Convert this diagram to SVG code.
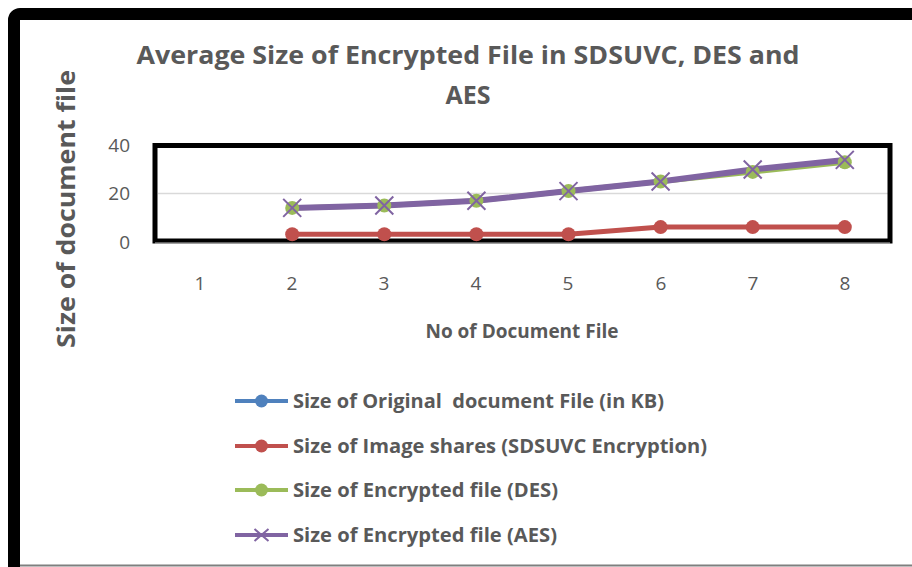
<svg xmlns="http://www.w3.org/2000/svg" width="912" height="567" viewBox="0 0 912 567">
<style>
text{font-family:"Open Sans","Liberation Sans",sans-serif;fill:#595959}
.title{font-size:25px;font-weight:bold;text-anchor:middle}
.axt{font-size:25px;font-weight:bold;text-anchor:middle}
.xt{font-size:19px;font-weight:bold;text-anchor:middle}
.tick{font-size:19px;text-anchor:middle}
.ytick{font-size:19px;text-anchor:end}
.leg{font-size:19px;font-weight:bold;white-space:pre}
.red{stroke:#C0504D;stroke-width:5;fill:none;stroke-linejoin:round;stroke-linecap:round}
.green{stroke:#9BBB59;stroke-width:5;fill:none;stroke-linejoin:round;stroke-linecap:round}
.purple{stroke:#8064A2;stroke-width:6;fill:none;stroke-linejoin:round;stroke-linecap:round}
.xm{stroke:#8064A2;stroke-width:2;fill:none}
</style>
<defs>
<g id="xmark"><path class="xm" d="M-9,-9L9,9M-9,9L9,-9"/></g>
<g id="xmarkS"><path class="xm" d="M-7,-6L7,6M-7,6L7,-6"/></g>
</defs>
<rect x="0" y="0" width="912" height="567" fill="#fff"/>
<g id="frame">
<rect x="14" y="14" width="1000" height="600" rx="6" fill="#fff" stroke="#000" stroke-width="12"/>
<line x1="20" y1="565.5" x2="912" y2="565.5" stroke="#7f7f7f" stroke-width="2"/>
</g>
<g id="title">
<text class="title" x="468" y="64" textLength="663" lengthAdjust="spacingAndGlyphs">Average Size of Encrypted File in SDSUVC, DES and</text>
<text class="title" x="468" y="104">AES</text>
</g>
<g id="y-axis-title">
<text class="axt" transform="translate(75,209) rotate(-90)" textLength="278" lengthAdjust="spacingAndGlyphs">Size of document file</text>
</g>
<g id="plot-area">
<line x1="158" y1="193.5" x2="888" y2="193.5" stroke="#D9D9D9" stroke-width="1.5"/>
<rect x="155" y="145.5" width="735" height="95.5" fill="none" stroke="#000" stroke-width="5"/>
<line x1="155" y1="243" x2="890" y2="243" stroke="#bfbfbf" stroke-width="1"/>
</g>
<g id="y-ticks">
<text class="ytick" x="130" y="152">40</text>
<text class="ytick" x="130" y="200">20</text>
<text class="ytick" x="130" y="249">0</text>
</g>
<g id="x-ticks">
<text class="tick" x="200" y="290">1</text>
<text class="tick" x="292" y="290">2</text>
<text class="tick" x="384" y="290">3</text>
<text class="tick" x="476" y="290">4</text>
<text class="tick" x="568" y="290">5</text>
<text class="tick" x="661" y="290">6</text>
<text class="tick" x="753" y="290">7</text>
<text class="tick" x="845" y="290">8</text>
</g>
<g id="x-axis-title">
<text class="xt" x="522" y="338">No of Document File</text>
</g>
<g id="connectors">
<polyline class="red" points="292.2,234.3 384.3,234.3 476.4,234.3 568.5,234.3 660.6,227.1 752.7,227.1 844.8,227.1"/>
<polyline class="green" points="292.2,207.9 384.3,205.5 476.4,200.7 568.5,191.1 660.6,181.5 752.7,171.9 844.8,162.3"/>
<polyline class="purple" points="292.2,207.9 384.3,205.5 476.4,200.7 568.5,191.1 660.6,181.5 752.7,169.5 844.8,159.9"/>
</g>
<g id="series-red-markers" fill="#C0504D">
<circle cx="292.2" cy="234.3" r="7"/><circle cx="384.3" cy="234.3" r="7"/><circle cx="476.4" cy="234.3" r="7"/><circle cx="568.5" cy="234.3" r="7"/><circle cx="660.6" cy="227.1" r="7"/><circle cx="752.7" cy="227.1" r="7"/><circle cx="844.8" cy="227.1" r="7"/>
</g>
<g id="series-green-markers" fill="#9BBB59">
<circle cx="292.2" cy="207.9" r="7"/><circle cx="384.3" cy="205.5" r="7"/><circle cx="476.4" cy="200.7" r="7"/><circle cx="568.5" cy="191.1" r="7"/><circle cx="660.6" cy="181.5" r="7"/><circle cx="752.7" cy="171.9" r="7"/><circle cx="844.8" cy="162.3" r="7"/>
</g>
<g id="series-purple-markers">
<use href="#xmark" x="292.2" y="207.9"/><use href="#xmark" x="384.3" y="205.5"/><use href="#xmark" x="476.4" y="200.7"/><use href="#xmark" x="568.5" y="191.1"/><use href="#xmark" x="660.6" y="181.5"/><use href="#xmark" x="752.7" y="169.5"/><use href="#xmark" x="844.8" y="159.9"/>
</g>
<g id="legend">
<g id="legend-blue">
<line x1="235" y1="401" x2="288" y2="401" stroke="#4F81BD" stroke-width="4"/>
<circle cx="261.5" cy="401" r="6.5" fill="#4F81BD"/>
<text class="leg" x="293" y="408" textLength="371" lengthAdjust="spacingAndGlyphs">Size of Original  document File (in KB)</text>
</g>
<g id="legend-red">
<line x1="235" y1="446" x2="288" y2="446" stroke="#C0504D" stroke-width="4"/>
<circle cx="261.5" cy="446" r="6.5" fill="#C0504D"/>
<text class="leg" x="293" y="453" textLength="414" lengthAdjust="spacingAndGlyphs">Size of Image shares (SDSUVC Encryption)</text>
</g>
<g id="legend-green">
<line x1="235" y1="490" x2="288" y2="490" stroke="#9BBB59" stroke-width="4"/>
<circle cx="261.5" cy="490" r="6.5" fill="#9BBB59"/>
<text class="leg" x="293" y="497" textLength="265" lengthAdjust="spacingAndGlyphs">Size of Encrypted file (DES)</text>
</g>
<g id="legend-purple">
<line x1="235" y1="535" x2="288" y2="535" stroke="#8064A2" stroke-width="4"/>
<use href="#xmarkS" x="261.5" y="535"/>
<text class="leg" x="293" y="542" textLength="264" lengthAdjust="spacingAndGlyphs">Size of Encrypted file (AES)</text>
</g>
</g>
</svg>
